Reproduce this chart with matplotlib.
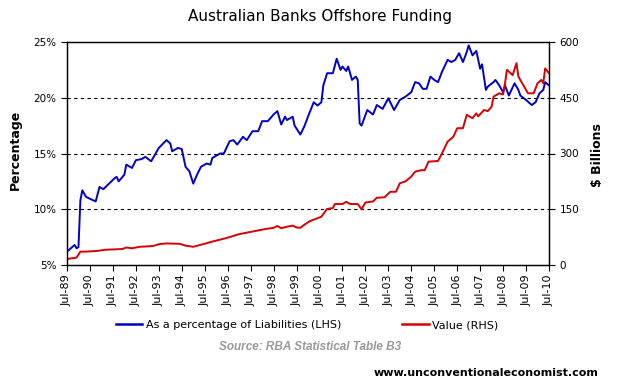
import matplotlib
matplotlib.use('Agg')
import matplotlib.pyplot as plt

# months after Jul-1989
pct_months = [0, 4, 5, 6, 7, 8, 10, 15, 17, 19, 22, 25, 26, 27, 30, 31, 34, 36, 39, 41,
              44, 46, 48, 52, 54, 55, 58, 60, 62, 64, 66, 68, 70, 73, 75, 76, 80, 82, 85, 87,
              89, 92, 94, 97, 100, 102, 105, 108, 110, 112, 114, 115, 118, 119, 122, 124, 126, 129, 131, 133,
              134, 136, 139, 141, 143, 144, 146, 147, 149, 151, 152, 153, 154, 157, 160, 162, 165, 168, 171, 174,
              177, 180, 182, 184, 186, 188, 190, 192, 194, 196, 199, 201, 203, 205, 207, 209, 210, 212, 214, 215,
              216, 217, 219, 220, 223, 224, 226, 228, 229, 231, 234, 236, 237, 240, 243, 245, 247, 249, 250, 252]
pct_values = [6.2, 6.8, 6.5, 6.6, 10.8, 11.7, 11.1, 10.7, 12.0, 11.8, 12.3, 12.8, 12.9, 12.5, 13.1, 14.0, 13.7, 14.4, 14.5, 14.7,
              14.3, 14.9, 15.5, 16.2, 15.9, 15.2, 15.5, 15.4, 13.8, 13.4, 12.3, 13.1, 13.8, 14.1, 14.0, 14.6, 15.0, 15.0, 16.1, 16.2,
              15.8, 16.5, 16.2, 17.0, 17.0, 17.9, 17.9, 18.5, 18.8, 17.6, 18.3, 18.0, 18.3, 17.5, 16.7, 17.4, 18.3, 19.6, 19.3, 19.6,
              21.1, 22.2, 22.2, 23.5, 22.5, 22.8, 22.4, 22.8, 21.6, 21.9, 21.6, 17.7, 17.5, 18.9, 18.5, 19.35, 19.0, 19.95, 18.9, 19.8,
              20.1, 20.5, 21.4, 21.3, 20.8, 20.8, 21.9, 21.6, 21.4, 22.3, 23.4, 23.2, 23.4, 24.0, 23.2, 24.1, 24.7, 23.8, 24.2, 23.4,
              22.6, 23.0, 20.7, 21.0, 21.4, 21.6, 21.1, 20.5, 21.1, 20.2, 21.3, 20.7, 20.2, 19.8, 19.35, 19.6, 20.4, 20.7, 21.4, 21.1]

val_months = [0, 5, 7, 10, 16, 20, 29, 31, 34, 38, 45, 48, 52, 59, 62, 66, 69, 76, 83, 90,
              97, 104, 108, 110, 112, 115, 118, 120, 122, 124, 127, 131, 133, 136, 139, 140, 144, 146, 148, 152,
              154, 156, 160, 162, 166, 169, 172, 174, 177, 180, 182, 185, 187, 189, 194, 196, 199, 202, 204, 207,
              209, 212, 214, 215, 218, 220, 222, 223, 226, 228, 229, 230, 233, 235, 236, 238, 241, 244, 246, 248,
              249, 250, 252]
val_values = [16, 20, 36, 36, 38, 41, 43, 47, 45, 49, 51, 56, 58, 57, 52, 49, 53, 63, 72, 83,
              90, 97, 100, 105, 99, 103, 106, 101, 100, 108, 118, 126, 130, 151, 153, 164, 164, 170, 164, 164,
              150, 168, 171, 181, 182, 197, 197, 220, 225, 238, 251, 255, 255, 278, 280, 300, 332, 345, 368, 368,
              404, 395, 408, 400, 417, 414, 426, 453, 462, 459, 489, 525, 511, 543, 507, 489, 462, 462, 489, 498,
              489, 529, 516]

tick_months = list(range(0, 253, 12))
tick_labels = ['Jul-%02d' % ((89 + i) % 100) for i in range(len(tick_months))]

W, H = 620, 387
fig = plt.figure(figsize=(W / 100, H / 100), dpi=100)
ax = fig.add_axes([67 / W, 1 - 265 / H, (549 - 67) / W, (265 - 42) / H])
ax2 = ax.twinx()

blue = '#0000c8'
red = '#d80000'
ax.plot(pct_months, pct_values, color=blue, lw=1.4, zorder=3)
ax2.plot(val_months, val_values, color=red, lw=1.4)

ax.set_xlim(0, 252)
ax.set_ylim(5, 25)
ax2.set_ylim(0, 600)
ax.set_yticks([5, 10, 15, 20, 25])
ax.set_yticklabels(['%d%%' % v for v in [5, 10, 15, 20, 25]])
ax2.set_yticks([0, 150, 300, 450, 600])
ax.set_xticks(tick_months)
ax.set_xticklabels(tick_labels, rotation=90)

for y in [10, 15, 20]:
    ax.axhline(y, color='black', lw=0.8, ls=(0, (3, 3)), zorder=1)

for a in (ax, ax2):
    a.tick_params(direction='out', length=4, width=0.8, labelsize=7.5, colors='black')
    for s in a.spines.values():
        s.set_linewidth(0.9)
ax.tick_params(axis='x', pad=3, labelsize=8)

fig.text(320 / W, 1 - 17 / H, 'Australian Banks Offshore Funding', ha='center', va='center', fontsize=11)
fig.text(15 / W, 1 - 150 / H, 'Percentage', rotation=90, ha='center', va='center',
         fontsize=9, fontweight='bold')
fig.text(598 / W, 1 - 155 / H, '$ Billions', rotation=90, ha='center', va='center',
         fontsize=9, fontweight='bold')

h1, = ax.plot([], [], color=blue, lw=1.8)
h2, = ax.plot([], [], color=red, lw=1.8)
fig.legend([h1, h2], ['As a percentage of Liabilities (LHS)', 'Value (RHS)'],
           loc='center', bbox_to_anchor=(307 / W, 1 - 325 / H), ncol=2, frameon=False,
           fontsize=8, handlelength=2.4, handletextpad=0.3, columnspacing=5.5)

fig.text(310 / W, 1 - 347 / H, 'Source: RBA Statistical Table B3', ha='center', va='center',
         fontsize=8.5, fontweight='bold', style='italic', color='#999999', family='Liberation Sans')
fig.text(598 / W, 1 - 373 / H, 'www.unconventionaleconomist.com', ha='right', va='center',
         fontsize=8, fontweight='bold')

fig.savefig('out.png', dpi=100)
